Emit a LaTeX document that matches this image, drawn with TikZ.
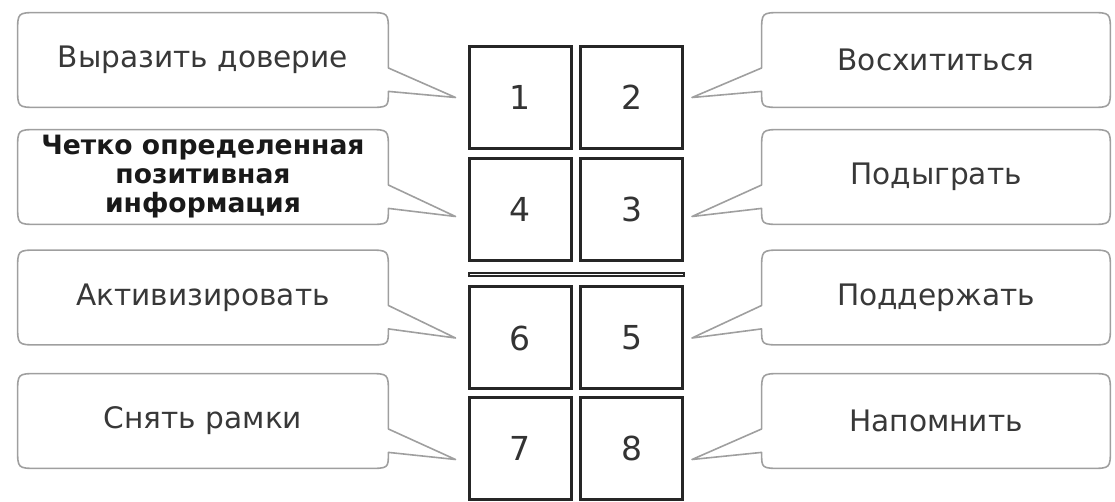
\documentclass[tikz,border=0pt]{standalone}
\usepackage{fontspec}
\setmainfont{DejaVu Sans}
\usetikzlibrary{calc}

\begin{document}
\begin{tikzpicture}[x=0.5pt, y=-0.5pt,
    cell/.style={draw=black!85, line width=1.5pt, minimum width=51pt, minimum height=51pt, inner sep=0pt, text=black!80, font=\fontsize{16.5}{20}\selectfont},
    label/.style={minimum width=185pt, minimum height=47pt, inner sep=0pt, align=center, text=black!78, font=\fontsize{14.8}{17}\selectfont},
    rlabel/.style={label, minimum width=174pt},
    bubble/.style={draw=gray!75, line width=0.8pt, line join=round}]
    \useasboundingbox (0,0) rectangle (1115,502);

    % Central Cells
    \foreach \name/\x/\y/\num in {
        c1/520/97.5/1, c2/631.5/97.5/2, c4/520/209.5/4, c3/631.5/209.5/3,
        c6/520/338/6, c5/631.5/338/5, c7/520/448.5/7, c8/631.5/448.5/8
    } {
        \node[cell] (\name) at (\x, \y) {\num};
    }
    \node[draw=black!85, line width=1pt, minimum width=107.5pt, minimum height=1.5pt, inner sep=0pt] (sep) at (576, 274.5) {};

    % Left Callout Labels
    \node[label] (l1) at (203, 60) {Выразить доверие};
    \node[label, font=\fontsize{13.3}{14.5}\selectfont\bfseries, text=black!90] (l2) at (203, 177) {Четко определенная\\позитивная\\информация};
    \node[label] (l3) at (203, 297.5) {Активизировать};
    \node[label] (l4) at (203, 421) {Снять рамки};

    % Right Callout Labels
    \node[rlabel] (r1) at (936, 60) {Восхититься};
    \node[rlabel] (r2) at (936, 177) {Подыграть};
    \node[rlabel] (r3) at (936, 297.5) {Поддержать};
    \node[rlabel] (r4) at (936, 421) {Напомнить};

    % Left Bubbles
    \foreach \n/\c/\d in {l1/c1/0, l2/c4/7, l3/c6/0, l4/c7/11} {
        \draw[bubble] ($(\n.north west)+(0,20)$) .. controls (\n.north west) .. ($(\n.north west)+(20,0)$)
            -- ($(\n.north east)+(-20,0)$) .. controls (\n.north east) .. ($(\n.north east)+(0,20)$)
            -- ($(\n.east)+(0,8)$) -- ($(\c.west)+(-12,\d)$) -- ($(\n.south east)+(0,-16)$)
            .. controls (\n.south east) .. ($(\n.south east)+(-20,0)$)
            -- ($(\n.south west)+(20,0)$) .. controls (\n.south west) .. ($(\n.south west)+(0,-20)$) -- cycle;
    }

    % Right Bubbles
    \foreach \n/\c/\d in {r1/c2/0, r2/c3/7, r3/c5/0, r4/c8/11} {
        \draw[bubble] ($(\n.north west)+(0,20)$) .. controls (\n.north west) .. ($(\n.north west)+(20,0)$)
            -- ($(\n.north east)+(-20,0)$) .. controls (\n.north east) .. ($(\n.north east)+(0,20)$)
            -- ($(\n.south east)+(0,-20)$) .. controls (\n.south east) .. ($(\n.south east)+(-20,0)$)
            -- ($(\n.south west)+(20,0)$) .. controls (\n.south west) .. ($(\n.south west)+(0,-16)$)
            -- ($(\c.east)+(8,\d)$) -- ($(\n.west)+(0,8)$) -- cycle;
    }
\end{tikzpicture}
\end{document}
